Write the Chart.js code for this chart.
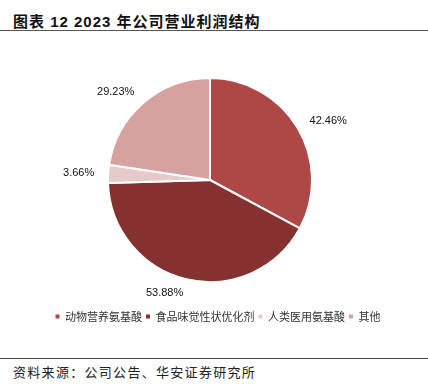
<!DOCTYPE html>
<html>
<head>
<meta charset="utf-8">
<script src="https://cdn.jsdelivr.net/npm/chart.js@4"></script>
<style>
  body { margin: 0; width: 428px; height: 385px; background: #fff; position: relative; overflow: hidden; }
  #title {
    position: absolute; left: 13px; top: 10px;
    font: bold 15px "Liberation Sans", "Noto Sans CJK SC", sans-serif;
    color: #111; letter-spacing: 1px;
  }
  #topline { position: absolute; left: 0; top: 30px; width: 428px; height: 0; border-top: 1.5px solid #555; }
  #box { position: absolute; left: 0; top: 37px; width: 428px; height: 295px; }
  #botline { position: absolute; left: 0; top: 358px; width: 428px; height: 0; border-top: 1px solid #444; }
  #source {
    position: absolute; left: 13px; top: 362px;
    font: 13px "Noto Sans CJK SC", sans-serif; color: #222; letter-spacing: 1.3px;
  }
</style>
</head>
<body>
<div id="title">图表 12 2023 年公司营业利润结构</div>
<div id="topline"></div>
<div id="box"><canvas id="myChart"></canvas></div>
<div id="botline"></div>
<div id="source">资料来源：公司公告、华安证券研究所</div>
<script>
const categories = ['动物营养氨基酸', '食品味觉性状优化剂', '人类医用氨基酸', '其他']
const values = [42.46, 53.88, 3.66, 29.23]
const colors = ['#ad4846', '#853130', '#e7c9c9', '#d6a2a1']

// percent labels just outside each slice
const outsideLabels = {
  id: 'outsideLabels',
  afterLayout(chart) {
    // legend sits a bit right of the pie in the original
    chart.legend.left += 8
    chart.legend.right += 8
  },
  afterDatasetsDraw(chart) {
    const c = chart.ctx
    const meta = chart.getDatasetMeta(0)
    c.save()
    c.font = '11px "Liberation Sans", Arial, sans-serif'
    c.fillStyle = '#111'
    c.textBaseline = 'middle'
    meta.data.forEach((arc, i) => {
      const p = arc.getProps(['x', 'y', 'startAngle', 'endAngle', 'outerRadius'], true)
      const mid = (p.startAngle + p.endAngle) / 2
      const r = p.outerRadius + 14
      const x = p.x + Math.cos(mid) * r
      const y = p.y + Math.sin(mid) * r
      c.textAlign = Math.cos(mid) >= 0 ? 'left' : 'right'
      c.fillText(values[i].toFixed(2) + '%', x, y)
    })
    c.restore()
  }
}

new Chart(document.getElementById('myChart'), {
  type: 'pie',
  data: {
    labels: categories,
    datasets: [{
      data: values,
      backgroundColor: colors,
      borderColor: '#fff',
      borderWidth: 2
    }]
  },
  options: {
    responsive: true,
    maintainAspectRatio: false,
    animation: false,
    radius: 102,
    layout: { padding: { top: 16, right: 8 } },
    plugins: {
      tooltip: { enabled: false },
      legend: {
        position: 'bottom',
        labels: {
          boxWidth: 4,
          boxHeight: 4,
          padding: 4,
          color: '#333',
          font: { size: 11, family: '"Noto Sans CJK SC", sans-serif' },
          generateLabels(chart) {
            return Chart.overrides.pie.plugins.legend.labels.generateLabels(chart)
              .map(l => Object.assign(l, { lineWidth: 0, strokeStyle: 'transparent' }))
          }
        }
      }
    }
  },
  plugins: [outsideLabels]
})
</script>
</body>
</html>
